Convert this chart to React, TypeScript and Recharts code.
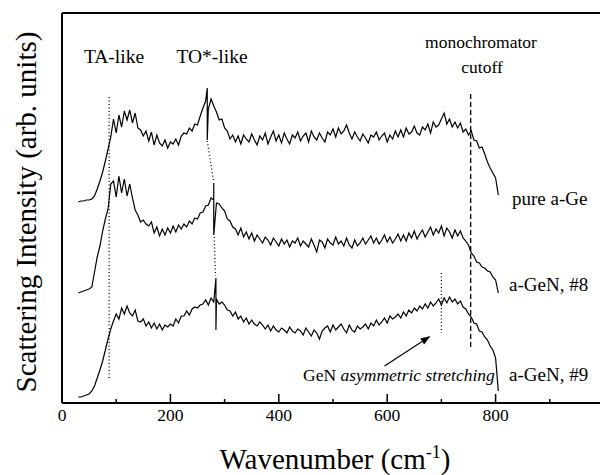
import { LineChart, Line, XAxis, YAxis, ReferenceLine } from "recharts";

// sampling grid (cm-1)
const wavenumber = [
  30, 35, 40, 45, 50, 55, 60, 65, 70, 75, 80, 85, 90, 95, 100, 105, 110, 115, 120, 125,
  130, 135, 140, 145, 150, 155, 160, 165, 170, 175, 180, 185, 190, 195, 200, 205, 210, 215, 220, 225,
  230, 235, 240, 245, 250, 255, 260, 265, 270, 275, 280, 285, 290, 295, 300, 305, 310, 315, 320, 325,
  330, 335, 340, 345, 350, 355, 360, 365, 370, 375, 380, 385, 390, 395, 400, 405, 410, 415, 420, 425,
  430, 435, 440, 445, 450, 455, 460, 465, 470, 475, 480, 485, 490, 495, 500, 505, 510, 515, 520, 525,
  530, 535, 540, 545, 550, 555, 560, 565, 570, 575, 580, 585, 590, 595, 600, 605, 610, 615, 620, 625,
  630, 635, 640, 645, 650, 655, 660, 665, 670, 675, 680, 685, 690, 695, 700, 705, 710, 715, 720, 725,
  730, 735, 740, 745, 750, 755, 760, 765, 770, 775, 780, 785, 790, 795, 800, 805,
];

// intensities, curves already offset vertically (arb. units)
const pureGe = [
  201, 202, 202, 203, 203, 204, 207, 214, 222, 231, 242, 254, 266, 284, 270, 288, 276, 292, 283, 293,
  280, 290, 275, 273, 267, 272, 262, 271, 258, 268, 260, 257, 263, 255, 261, 259, 264, 258, 267, 270,
  269, 275, 272, 279, 278, 287, 295, 302, 294, 304, 297, 291, 283, 284, 275, 272, 264, 268, 261, 267,
  259, 268, 264, 261, 269, 263, 258, 267, 263, 270, 259, 266, 272, 262, 268, 260, 270, 264, 259, 268,
  265, 271, 262, 267, 270, 261, 272, 266, 263, 270, 265, 261, 271, 268, 274, 266, 275, 269, 272, 278,
  270, 264, 271, 266, 262, 269, 265, 260, 268, 266, 271, 263, 267, 270, 261, 268, 264, 272, 266, 273,
  266, 275, 269, 271, 277, 270, 268, 276, 273, 279, 270, 281, 276, 278, 284, 290, 279, 284, 276, 281,
  275, 280, 271, 274, 268, 272, 263, 262, 255, 256, 249, 241, 235, 230, 225, 208,
];

const geN8 = [
  110, 111, 112, 113, 114, 116, 131, 146, 157, 172, 184, 194, 219, 222, 206, 227, 210, 224, 207, 219,
  205, 193, 188, 181, 183, 179, 177, 181, 170, 176, 167, 174, 168, 175, 170, 177, 171, 178, 174, 179,
  176, 182, 179, 185, 184, 190, 191, 197, 198, 205, 203, 200, 199, 195, 192, 184, 182, 176, 174, 168,
  175, 166, 171, 164, 170, 162, 168, 164, 160, 166, 163, 158, 165, 161, 157, 164, 159, 163, 156, 162,
  160, 165, 157, 162, 159, 156, 164, 158, 151, 163, 161, 155, 164, 160, 158, 166, 159, 162, 157, 165,
  158, 155, 163, 157, 160, 165, 159, 163, 167, 160, 165, 159, 163, 168, 161, 166, 160, 164, 169, 162,
  168, 162, 170, 165, 172, 164, 169, 173, 166, 171, 176, 168, 174, 170, 177, 167, 175, 171, 165, 173,
  167, 172, 165, 162, 158, 150, 147, 141, 140, 136, 135, 132, 131, 126, 123, 110,
];

const geN9 = [
  6, 6, 7, 8, 9, 12, 17, 25, 33, 42, 53, 64, 74, 82, 89, 84, 95, 89, 97, 90,
  87, 93, 82, 81, 84, 77, 81, 75, 80, 74, 79, 73, 78, 76, 79, 77, 84, 80, 87, 87,
  92, 88, 94, 96, 95, 98, 99, 103, 98, 105, 101, 104, 99, 101, 98, 93, 92, 87, 91, 84,
  87, 81, 85, 79, 83, 79, 77, 81, 78, 74, 78, 72, 77, 73, 71, 75, 73, 70, 76, 72,
  70, 74, 72, 68, 75, 71, 67, 73, 70, 64, 72, 75, 77, 71, 78, 73, 76, 79, 74, 70,
  78, 73, 71, 77, 74, 76, 79, 74, 80, 77, 83, 78, 81, 85, 80, 87, 84, 86, 89, 85,
  91, 87, 93, 90, 95, 92, 97, 94, 99, 95, 101, 97, 100, 104, 98, 105, 100, 106, 101, 104,
  99, 102, 96, 94, 89, 86, 80, 79, 72, 71, 66, 63, 57, 53, 45, 12,
];

// narrow plasma line in each spectrum
const spikeX = [268, 280, 284];
const spikeTop = [315, 220, 125];
const spikeBottom = [263, 168, 73];

const curveNames = ["pure a-Ge", "a-GeN, #8", "a-GeN, #9"];
const bottomTicks = [0, 100, 200, 300, 400, 500, 600, 700, 800, 900];
const topTicks = [100, 200, 300, 400, 500, 600, 700, 800, 900];

const font = "'Liberation Serif', 'Times New Roman', serif";

function buildSeries(values: number[], k: number) {
  const pts: { x: number; y: number }[] = [];
  wavenumber.forEach((x, i) => {
    pts.push({ x, y: values[i] });
    const next = wavenumber[i + 1];
    if (x <= spikeX[k] && (next === undefined || next > spikeX[k])) {
      pts.push({ x: spikeX[k], y: spikeTop[k] }, { x: spikeX[k], y: spikeBottom[k] });
    }
  });
  return pts;
}

const series = [pureGe, geN8, geN9].map((v, k) => ({ name: curveNames[k], data: buildSeries(v, k) }));

const BottomTick = (props: any) => {
  const { x, y, payload } = props;
  const major = payload.value % 200 === 0;
  return (
    <g>
      <line x1={x} x2={x} y1={y} y2={y - (major ? 9 : 4)} stroke="#000" strokeWidth={1.5} />
      {major && (
        <text x={x} y={y + 18} textAnchor="middle" fontSize={17.5} fontFamily={font} fill="#000">
          {payload.value}
        </text>
      )}
    </g>
  );
};

const TopTick = (props: any) => {
  const { x, y } = props;
  return <line x1={x} x2={x} y1={y} y2={y + 7} stroke="#000" strokeWidth={1.5} />;
};

const Arrow = (p: any) => {
  const { x1, y1, x2, y2 } = p;
  const a = Math.atan2(y2 - y1, x2 - x1);
  const L = 10;
  const W = 3.5;
  const bx = x2 - L * Math.cos(a);
  const by = y2 - L * Math.sin(a);
  const pts = `${x2},${y2} ${bx + W * Math.sin(a)},${by - W * Math.cos(a)} ${bx - W * Math.sin(a)},${by + W * Math.cos(a)}`;
  return (
    <g>
      <line x1={x1} y1={y1} x2={bx} y2={by} stroke="#000" strokeWidth={1.2} />
      <polygon points={pts} fill="#000" />
    </g>
  );
};

const dotted = { stroke: "#000", strokeWidth: 1.3, strokeDasharray: "1 2.5" };

export default function App() {
  return (
    <div
      style={{
        position: "absolute",
        left: 0,
        top: 0,
        width: 600,
        height: 475,
        overflow: "hidden",
        background: "#fff",
      }}
    >
      <LineChart width={620} height={475} margin={{ top: 3, right: 16, bottom: 42, left: 60 }}>
        <XAxis
          type="number"
          dataKey="x"
          domain={[0, 1000]}
          ticks={bottomTicks}
          interval={0}
          tickLine={false}
          tickSize={0}
          tickMargin={0}
          tick={(p: any) => <BottomTick {...p} />}
          axisLine={{ stroke: "#000", strokeWidth: 2 }}
          height={30}
          allowDataOverflow
        />
        <XAxis
          xAxisId="top"
          orientation="top"
          type="number"
          domain={[0, 1000]}
          ticks={topTicks}
          interval={0}
          tickLine={false}
          tickSize={0}
          tickMargin={0}
          tick={(p: any) => <TopTick {...p} />}
          axisLine={{ stroke: "#000", strokeWidth: 2 }}
          height={10}
        />
        <YAxis
          type="number"
          domain={[0, 390]}
          width={2}
          tick={false}
          tickLine={false}
          axisLine={{ stroke: "#000", strokeWidth: 2 }}
          allowDataOverflow
        />
        {/* TA-like marker */}
        <ReferenceLine segment={[{ x: 87, y: 306 }, { x: 87, y: 25 }]} {...dotted} />
        {/* TO*-like marker, joining the plasma lines */}
        <ReferenceLine segment={[{ x: 268, y: 262 }, { x: 280, y: 221 }]} {...dotted} />
        <ReferenceLine segment={[{ x: 281, y: 166 }, { x: 283, y: 127 }]} {...dotted} />
        {/* GeN stretching marker */}
        <ReferenceLine segment={[{ x: 700, y: 130 }, { x: 700, y: 70 }]} {...dotted} />
        {/* monochromator cutoff */}
        <ReferenceLine
          segment={[{ x: 754, y: 309 }, { x: 754, y: 56 }]}
          stroke="#000"
          strokeWidth={1.3}
          strokeDasharray="5 3"
        />
        <ReferenceLine segment={[{ x: 595, y: 37 }, { x: 680, y: 67 }]} shape={Arrow} />
        {series.map((s) => (
          <Line
            key={s.name}
            data={s.data}
            dataKey="y"
            name={s.name}
            type="linear"
            stroke="#000"
            strokeWidth={1.2}
            dot={false}
            isAnimationActive={false}
          />
        ))}
      </LineChart>
      <svg
        width={600}
        height={475}
        style={{ position: "absolute", left: 0, top: 0, pointerEvents: "none" }}
        fontFamily={font}
        fill="#000"
      >
        <text x={114} y={63} textAnchor="middle" fontSize={19.5}>TA-like</text>
        <text x={212} y={63} textAnchor="middle" fontSize={19.5}>TO*-like</text>
        <text x={481} y={48} textAnchor="middle" fontSize={17.5}>monochromator</text>
        <text x={482} y={73} textAnchor="middle" fontSize={17.5}>cutoff</text>
        <text x={512} y={205} fontSize={19}>{curveNames[0]}</text>
        <text x={509} y={291} fontSize={19}>{curveNames[1]}</text>
        <text x={509} y={381} fontSize={19}>{curveNames[2]}</text>
        <text x={303} y={381} fontSize={17.5}>
          GeN <tspan fontStyle="italic">asymmetric stretching</tspan>
        </text>
        <text x={335} y={469} textAnchor="middle" fontSize={29}>
          Wavenumber (cm<tspan dy={-11} fontSize={18}>-1</tspan>
          <tspan dy={11}>)</tspan>
        </text>
        <text transform="translate(36,212) rotate(-90)" textAnchor="middle" fontSize={29}>
          Scattering Intensity (arb. units)
        </text>
      </svg>
    </div>
  );
}
